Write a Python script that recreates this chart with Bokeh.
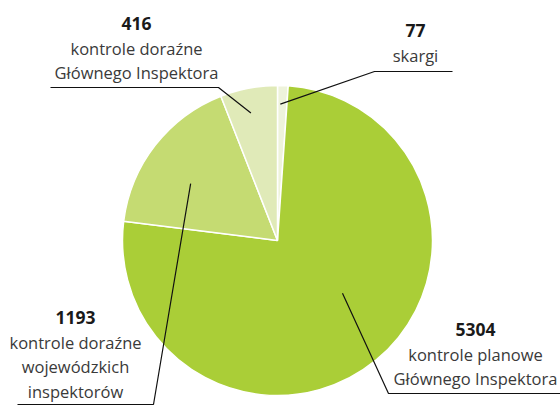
import math
from bokeh.plotting import figure
from bokeh.models import ColumnDataSource, Range1d
from bokeh.core.properties import value
from bokeh.embed import file_html
from bokeh.resources import INLINE

# ---- data ----
values = [77, 5304, 1193, 416]
numbers = ["77", "5304", "1193", "416"]
descriptions = [
    ["skargi"],
    ["kontrole planowe", "Głównego Inspektora"],
    ["kontrole doraźne", "wojewódzkich", "inspektorów"],
    ["kontrole doraźne", "Głównego Inspektora"],
]
colors = ["#EEF3DB", "#AACE37", "#C5DB72", "#E0EAB8"]

# ---- layout (figure units = pixels, y up) ----
W, H = 560, 416
cx, cy, R = 277, 176, 155
# label block: center x, first baseline y, elbow (x, y), far end x of horizontal,
# anchor radius fraction, anchor position within slice
label_layout = [
    dict(x=415, y=386, ex=374, ey=345, fx=452, rf=0.88, af=0.3),
    dict(x=475, y=87, ex=388, ey=23, fx=560, rf=0.54, af=0.458),
    dict(x=75, y=99, ex=153, ey=12, fx=17, rf=0.67, af=0.425),
    dict(x=136, y=393, ex=218, ey=329, fx=50, rf=0.84, af=0.45),
]
line_step = 24.5
FONT = "Open Sans"
FS = "16.5px"
FS_NUM = "17.5px"

p = figure(width=W, height=H, output_backend="svg", toolbar_location=None,
           x_range=Range1d(0, W), y_range=Range1d(0, H), min_border=0)
p.axis.visible = False
p.grid.visible = False
p.outline_line_color = None
p.background_fill_color = "white"
p.border_fill_color = "white"

total = float(sum(values))
starts, ends, frac_cum = [], [], 0.0
fr_starts = []
for v in values:
    fr_starts.append(frac_cum)
    starts.append(math.pi / 2 - frac_cum * 2 * math.pi)
    frac_cum += v / total
    ends.append(math.pi / 2 - frac_cum * 2 * math.pi)

src = ColumnDataSource(dict(x=[cx] * len(values), y=[cy] * len(values),
                            start=starts, end=ends, color=colors))
p.wedge(x="x", y="y", radius=R, start_angle="start", end_angle="end",
        direction="clock", fill_color="color", line_color="white",
        line_width=1.5, source=src)

# leader lines + labels
nx, ny, nt = [], [], []
dx, dy, dt = [], [], []
for i, v in enumerate(values):
    L = label_layout[i]
    f = fr_starts[i] + L["af"] * v / total
    ang = math.pi / 2 - f * 2 * math.pi
    ax = cx + R * L["rf"] * math.cos(ang)
    ay = cy + R * L["rf"] * math.sin(ang)
    p.line([ax, L["ex"], L["fx"]], [ay, L["ey"], L["ey"]],
           line_color="#111111", line_width=1.2)
    nx.append(L["x"]); ny.append(L["y"]); nt.append(numbers[i])
    for k, s in enumerate(descriptions[i]):
        dx.append(L["x"]); dy.append(L["y"] - line_step * (k + 1)); dt.append(s)

p.text(x=nx, y=ny, text=nt, text_align="center", text_baseline="alphabetic",
       text_font=value(FONT), text_font_style="bold", text_font_size=FS_NUM,
       text_color="#1a1a1a")
p.text(x=dx, y=dy, text=dt, text_align="center", text_baseline="alphabetic",
       text_font=value(FONT), text_font_size=FS, text_color="#3a3a3a")

open("out.html", "w").write(file_html(p, INLINE))
